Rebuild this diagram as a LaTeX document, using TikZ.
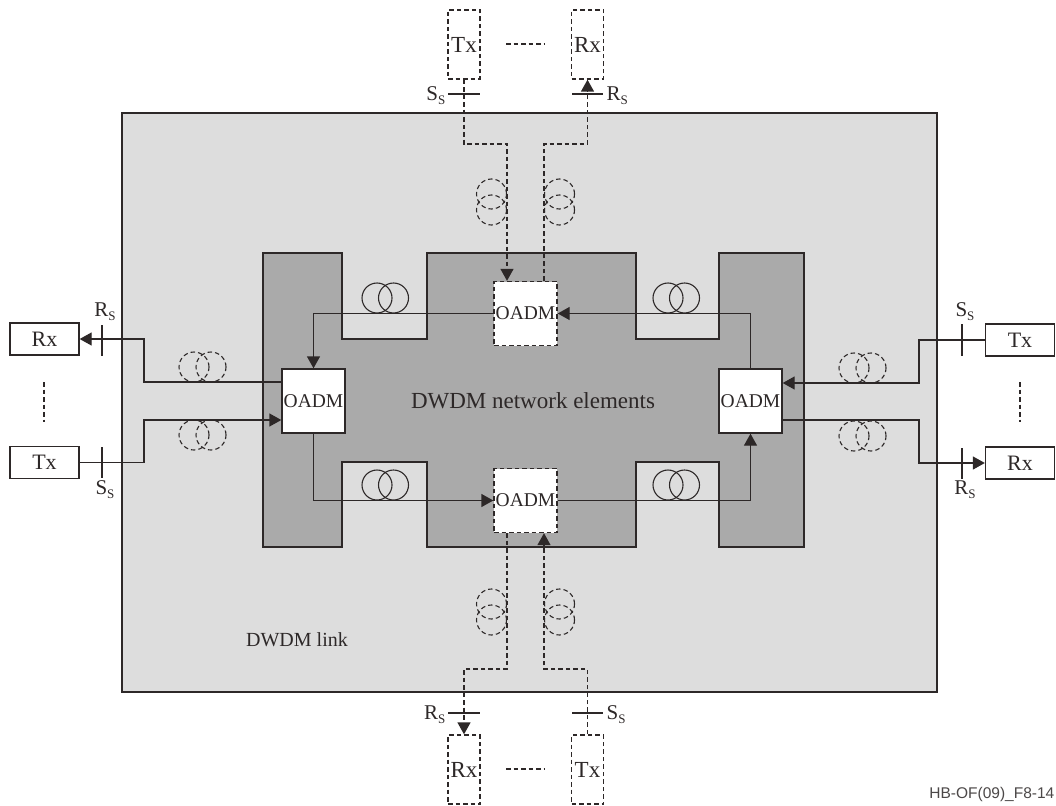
\documentclass[tikz,border=0pt]{standalone}
\usepackage{fontspec}
\setmainfont{Liberation Serif}
\newfontfamily\sansf{Liberation Sans}
\usetikzlibrary{arrows.meta}
\definecolor{ln}{RGB}{45,40,40}
\definecolor{lgray}{RGB}{221,221,221}
\definecolor{dgray}{RGB}{170,170,170}
\newcommand{\sublab}[1]{#1\raisebox{-0.4ex}{\fontsize{13}{13}\selectfont S}}
\begin{document}
\begin{tikzpicture}[x=1pt,y=-1pt,color=ln,line width=1.35pt,
  oadm/.style={draw,fill=white,minimum width=63pt,minimum height=64pt,inner sep=0pt,font=\fontsize{19.5}{20}\selectfont},
  trx/.style={draw,fill=white,minimum width=69pt,minimum height=32pt,inner sep=0pt,font=\fontsize{22}{22}\selectfont},
  vtrx/.style={draw,dsh,minimum width=32pt,minimum height=69pt,inner sep=0pt,font=\fontsize{23}{23}\selectfont},
  dsh/.style={dash pattern=on 4.5pt off 3pt},
  arr/.style={-{Triangle[length=12pt,width=13pt]}},
  coil/.style={line width=1.1pt},
  lab/.style={font=\fontsize{21}{21}\selectfont,inner sep=0pt},
  big/.style={font=\fontsize{23}{23}\selectfont,inner sep=0pt}
]
\path[fill=white] (0,0) rectangle (1056,805);
\useasboundingbox (0,0) rectangle (1056,805);
% outer link area
\draw[fill=lgray,line width=1.5pt] (122,113) rectangle (937,692);
% network elements area
\draw[fill=dgray] (263,253) -- (342,253) -- (342,339) -- (427,339) -- (427,253) -- (636,253)
  -- (636,339) -- (719,339) -- (719,253) -- (804,253) -- (804,547) -- (719,547) -- (719,462)
  -- (636,462) -- (636,547) -- (427,547) -- (427,462) -- (342,462) -- (342,547) -- (263,547) -- cycle;
% texts
\node[big] (ne) at (533,401) {DWDM network elements};
\node[big,font=\fontsize{20}{20}\selectfont] (lk) at (297,640) {DWDM link};
% OADMs
\node[oadm] (oL) at (313.5,401) {OADM};
\node[oadm,dsh] (oT) at (525.5,313.5) {OADM};
\node[oadm] (oR) at (750.5,401) {OADM};
\node[oadm,dsh] (oB) at (525.5,500.5) {OADM};
% terminals
\node[trx] (rxL) at (44.5,339) {Rx};
\node[trx] (txL) at (44.5,462.5) {Tx};
\node[trx] (txR) at (1020,340) {Tx};
\node[trx] (rxR) at (1020,463) {Rx};
\node[vtrx] (txT) at (464,44.5) {Tx};
\node[vtrx] (rxT) at (587.5,44.5) {Rx};
\node[vtrx] (rxB) at (464,769.5) {Rx};
\node[vtrx] (txB) at (587.5,769.5) {Tx};
% ellipsis marks
\draw[dsh] (506,44) -- (545,44);
\draw[dsh] (506,769) -- (545,769);
\draw[dsh] (44,382) -- (44,422);
\draw[dsh] (1020,382) -- (1020,422);
% ring connectors
\draw[arr] (oT.west) -| (oL.north);
\draw[arr] (oR.north) |- (oT.east);
\draw[arr] (oL.south) |- (oB.west);
\draw[arr] (oB.east) -| (oR.south);
% left side
\coordinate (l1) at (144,382);
\coordinate (l2) at (144,420);
\draw[arr] (oL.west |- l1) -- (l1) |- (rxL.east);
\draw[arr] (txL.east) -| (l2) -- (oL.west |- l2);
% right side
\coordinate (r1) at (919,383);
\coordinate (r2) at (919,420);
\draw[arr] (txR.west) -| (r1) -- (oR.east |- r1);
\draw[arr] (oR.east |- r2) -- (r2) |- (rxR.west);
% top
\coordinate (t1) at (464,144);
\coordinate (t2) at (507,144);
\coordinate (t3) at (544,144);
\coordinate (t4) at (587.5,144);
\draw[dsh,arr] (txT.south) -- (t1) -- (t2) -- (t2 |- oT.north);
\draw[dsh,arr] (oT.north -| t3) -- (t3) -- (t4) -- (rxT.south);
% bottom
\coordinate (b1) at (507,669);
\coordinate (b2) at (464,669);
\coordinate (b3) at (587.5,669);
\coordinate (b4) at (544,669);
\draw[dsh,arr] (oB.south -| b1) -- (b1) -- (b2) -- (rxB.north);
\draw[dsh,arr] (txB.north) -- (b3) -- (b4) -- (oB.south -| b4);
% solid coils
\foreach \cx/\cy in {377/298,668/298,377/485,668/485}{
  \draw[coil] (\cx,\cy) circle[radius=15pt];
  \draw[coil] (\cx+16.5,\cy) circle[radius=15pt];
}
% dashed coils (horizontal)
\foreach \cx/\cy in {194/367,194/435,854/368,854/436}{
  \draw[coil,dsh] (\cx,\cy) circle[radius=15pt];
  \draw[coil,dsh] (\cx+17,\cy) circle[radius=15pt];
}
% dashed coils (vertical)
\foreach \cx/\cy in {491.5/194,559.5/194,491.5/604,559.5/604}{
  \draw[coil,dsh] (\cx,\cy) circle[radius=15pt];
  \draw[coil,dsh] (\cx,\cy+16) circle[radius=15pt];
}
% reference point ticks
\draw (102,325) -- (102,356);
\draw (102,447) -- (102,478);
\draw (962,324) -- (962,356);
\draw (962,448) -- (962,479);
\draw (448,94) -- (480,94);
\draw (572,94) -- (603,94);
\draw (448,713) -- (480,713);
\draw (572,713) -- (603,713);
% reference point labels
\node[lab] (rsL) at (105,312) {\sublab{R}};
\node[lab] (ssL) at (105,490) {\sublab{S}};
\node[lab] (ssR) at (965,312) {\sublab{S}};
\node[lab] (rsR) at (965,490) {\sublab{R}};
\node[lab,anchor=east] (ssT) at (446,96) {\sublab{S}};
\node[lab,anchor=west] (rsT) at (606,96) {\sublab{R}};
\node[lab,anchor=east] (rsB) at (446,715) {\sublab{R}};
\node[lab,anchor=west] (ssB) at (606,715) {\sublab{S}};
% figure id
\node[font=\sansf\fontsize{15.5}{16}\selectfont,anchor=east,inner sep=0pt,text=ln!85] (fid) at (1055,794) {HB-OF(09)\_F8-14};
\end{tikzpicture}
\end{document}
